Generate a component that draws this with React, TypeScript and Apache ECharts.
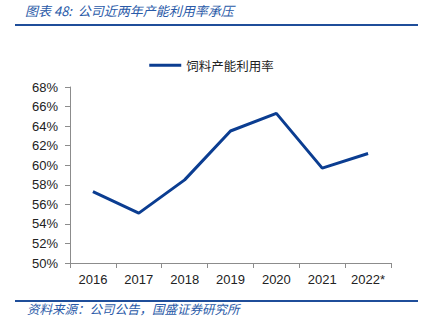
import React, { useEffect, useRef } from "react";
import * as echarts from "echarts";

const categories = ["2016", "2017", "2018", "2019", "2020", "2021", "2022*"];
const utilization = [57.3, 55.1, 58.5, 63.5, 65.3, 59.7, 61.2];
const seriesName = "饲料产能利用率";
const titleText = "图表 48:  公司近两年产能利用率承压";
const sourceText = "资料来源：公司公告，国盛证券研究所";

export default function App() {
  const ref = useRef<HTMLDivElement>(null);
  useEffect(() => {
    const chart = echarts.init(ref.current!, null, { renderer: "svg" });
    chart.setOption({
      animation: false,
      backgroundColor: "#ffffff",
      legend: {
        top: 54,
        left: "center",
        itemWidth: 32,
        itemHeight: 3,
        icon: "rect",
        textStyle: { fontFamily: "Noto Sans CJK SC", fontSize: 12.5, color: "#222" },
        data: [seriesName],
      },
      grid: { left: 70, right: 32, top: 87, bottom: 73, containLabel: false },
      xAxis: {
        type: "category",
        data: categories,
        boundaryGap: true,
        axisLine: { lineStyle: { color: "#8c8c8c", width: 1 } },
        axisTick: { show: true, inside: false, length: 5, lineStyle: { color: "#8c8c8c" } },
        axisLabel: { fontFamily: "Liberation Sans", fontSize: 13, color: "#222", margin: 10 },
      },
      yAxis: {
        type: "value",
        min: 50,
        max: 68,
        interval: 2,
        axisLine: { show: true, lineStyle: { color: "#8c8c8c", width: 1 } },
        axisTick: { show: true, length: 5, lineStyle: { color: "#8c8c8c" } },
        splitLine: { show: false },
        axisLabel: {
          fontFamily: "Liberation Sans",
          fontSize: 13,
          color: "#222",
          margin: 12,
          formatter: (v: number) => v + "%",
        },
      },
      series: [
        {
          name: seriesName,
          type: "line",
          data: utilization,
          symbol: "none",
          lineStyle: { color: "#0b3d91", width: 3 },
          itemStyle: { color: "#0b3d91" },
        },
      ],
      graphic: [
        {
          type: "text",
          left: 25,
          top: 4,
          style: {
            text: titleText,
            fontFamily: "Noto Sans CJK SC",
            fontStyle: "italic",
            fontSize: 13,
            fill: "#2a5aa8",
          },
        },
        {
          type: "rect",
          shape: { x: 15, y: 24, width: 403, height: 2 },
          style: { fill: "#1f4e9a" },
        },
        {
          type: "rect",
          shape: { x: 15, y: 300, width: 403, height: 2 },
          style: { fill: "#1f4e9a" },
        },
        {
          type: "text",
          left: 27,
          top: 302,
          style: {
            text: sourceText,
            fontFamily: "Noto Sans CJK SC",
            fontStyle: "italic",
            fontSize: 12.5,
            fill: "#2a5aa8",
          },
        },
      ],
    });
    return () => chart.dispose();
  }, []);
  return <div ref={ref} style={{ width: 423, height: 336, position: "absolute", left: 0, top: 0 }} />;
}
